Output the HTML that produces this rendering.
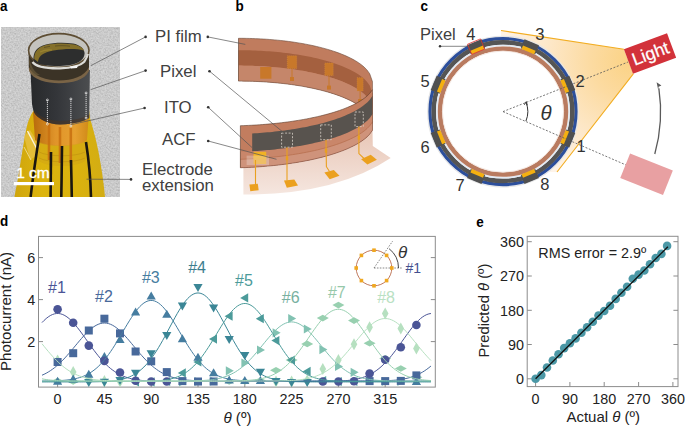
<!DOCTYPE html>
<html><head><meta charset="utf-8"><style>html,body{margin:0;padding:0;background:#fff;}svg{display:block;}</style></head>
<body><svg width="685" height="427" viewBox="0 0 685 427" font-family='"Liberation Sans", sans-serif'>
<defs><filter id="grain" x="0" y="0" width="1" height="1"><feTurbulence type="fractalNoise" baseFrequency="0.6" numOctaves="2" seed="7" result="n"/><feColorMatrix in="n" type="matrix" values="0.8 0 0 0 0.22  0.8 0 0 0 0.22  0.8 0 0 0 0.22  0 0 0 0 0.45" result="m"/><feComposite in="m" in2="SourceGraphic" operator="in"/></filter></defs>
<rect width="685" height="427" fill="#fff"/>
<g id="pa">
<defs><clipPath id="photoclip"><rect x="1" y="27" width="119" height="170"/></clipPath><linearGradient id="cylg" x1="0" x2="1" y1="0" y2="0"><stop offset="0" stop-color="#27292b"/><stop offset="0.45" stop-color="#34363a"/><stop offset="1" stop-color="#4c4e50"/></linearGradient><linearGradient id="yelg" x1="0" x2="1" y1="0" y2="0"><stop offset="0" stop-color="#cfa50c"/><stop offset="0.3" stop-color="#dcb40e"/><stop offset="0.7" stop-color="#dab20e"/><stop offset="1" stop-color="#d2ac14"/></linearGradient><linearGradient id="ambg" x1="0" x2="1" y1="0" y2="0"><stop offset="0" stop-color="#b86c0c"/><stop offset="0.4" stop-color="#e0942a"/><stop offset="0.75" stop-color="#e6a030"/><stop offset="1" stop-color="#d08a18"/></linearGradient><linearGradient id="rimg" x1="0" x2="1" y1="0" y2="0"><stop offset="0" stop-color="#3e3524"/><stop offset="0.5" stop-color="#4c4230"/><stop offset="1" stop-color="#5a5040"/></linearGradient></defs>
<g clip-path="url(#photoclip)">
<rect x="1" y="27" width="119" height="170" fill="#c6c6c6"/>
<rect x="1" y="27" width="119" height="170" fill="#bdbdbd" filter="url(#grain)"/>
<path d="M34,110 C31,114 28,121 26.5,128 C24,140 21.5,156 19,172 C17,184 15.5,191 14.5,197 L105,197 C104,185 102,172 100.5,163 C98.5,150 95,135 90,118 L89,110 Z" fill="url(#yelg)"/>
<path d="M24,136 L30,130 L40,146 L36,156 L30,160 Z" fill="#e9c34a" opacity="0.7"/>
<path d="M27.5,131 L37,149" stroke="#fbf4dc" stroke-width="1.4"/>
<path d="M24,147 L31,160" stroke="#f4e2a0" stroke-width="1" opacity="0.8"/>
<path d="M33,112 L35,140 C42,148 80,148 87,140 L89,112 Z" fill="url(#ambg)"/>
<path d="M36,140 C44,147 78,147 87,140 L86,160 C78,168 46,168 38,160 Z" fill="#d0a416" opacity="0.5"/>
<path d="M39,152 C48,157 76,157 85,152 M39,158 C48,163 76,163 85,158" stroke="#b88a10" stroke-width="0.8" fill="none" opacity="0.6"/>
<line x1="49" y1="124" x2="49" y2="160" stroke="#c87010" stroke-width="2.6" opacity="0.85"/>
<line x1="60" y1="127" x2="60" y2="163" stroke="#c87010" stroke-width="2.6" opacity="0.85"/>
<line x1="70.8" y1="128" x2="70.8" y2="163" stroke="#c87010" stroke-width="2.6" opacity="0.85"/>
<path d="M39.5,134 C37,150 33.5,172 30.6,197" stroke="#1a1610" stroke-width="2.6" fill="none"/>
<path d="M51,152 C51,166 50.8,180 50.6,197" stroke="#1a1610" stroke-width="2.6" fill="none"/>
<path d="M62,146 C61.8,164 61.6,180 61.3,197" stroke="#1a1610" stroke-width="2.6" fill="none"/>
<path d="M71,160 C71.3,172 71.6,185 71.8,197" stroke="#1a1610" stroke-width="2.6" fill="none"/>
<path d="M86,142 C88.5,158 90.5,176 91,197" stroke="#1a1610" stroke-width="2.6" fill="none"/>
<path d="M30.5,70 L32,104 C33,110 34,113 35,114 C40,120 48,124 60,124.5 C75,124 85,121 89.2,118 L89.9,70 Z" fill="url(#cylg)"/>
<path d="M35,114 C40,120 48,124 60,124.5 C75,124 85,121 89.2,118 L89.3,114.5 C85,117.5 75,120.5 60,121 C48,120.5 40,117 35,111 Z" fill="#4a3422" opacity="0.55"/>
<path d="M28.6,50.5 L28.8,68 C31,77 45,82.5 59,82.5 C72,82.5 86,78 89,68 L89,50.5 Z" fill="#3b3326"/>
<path d="M29,67 C33,76.5 47,80.5 59,80.5 C72,80.5 85,76.5 89,67 L89,71 C85,80 72,83.2 59,83.2 C47,83.2 33,80 29,71 Z" fill="#7a6446"/>
<path d="M29,58 C31,66 34,72 40,75 L34,76 C31,72 29,66 29,60 Z" fill="#6a5a3a" opacity="0.7"/>
<ellipse cx="58.8" cy="50.5" rx="30.2" ry="16.9" fill="#c4c3be" stroke="#5e4e34" stroke-width="1.6"/>
<path d="M33.5,60 C33,52 37,46.5 46,44.5 C54,42.5 64,42.3 73,43.6 C80,45 84,48.5 84.6,53 C84.5,60 78,65.5 60,66 C45,66 35,64 33.5,60 Z" fill="#2d2e2e"/>
<path d="M34.2,59 C34,52 38,47 46,45 C54,43.2 64,43 72,44.2 C78,45 82.5,47 84,50.5 C78,49 70,48.8 62,49.5 C52,50 45,52 41,55.5 C39,57.5 38,60 38,62 Z" fill="#84702a"/>
<path d="M40,52 C44,50 48,49.5 52,50" stroke="#9a8430" stroke-width="1.2" fill="none"/>
<path d="M55,46 C60,45.5 66,45.6 70,46.2 M44,47.5 L50,46.3" stroke="#4a4020" stroke-width="1" fill="none" opacity="0.6"/>
<path d="M32.5,62 C36,67 47,68.5 60,68.3 C72,68 80,66 84,62 C86,59 87.5,57 87.8,54" stroke="#dcdcd8" stroke-width="2.2" fill="none"/>
<path d="M70,66.5 L78,65 L77,68 L71,68.5 Z" fill="#f4f4f4"/>
<line x1="47.4" y1="100" x2="47.4" y2="124" stroke="#e8e8e8" stroke-width="0.9" stroke-dasharray="1.2,0.8"/>
<circle cx="47.4" cy="100" r="1" fill="none" stroke="#e8e8e8" stroke-width="0.7"/>
<circle cx="47.4" cy="124" r="1" fill="none" stroke="#e8e8e8" stroke-width="0.7"/>
<line x1="70.9" y1="99" x2="70.9" y2="126" stroke="#e8e8e8" stroke-width="0.9" stroke-dasharray="1.2,0.8"/>
<circle cx="70.9" cy="99" r="1" fill="none" stroke="#e8e8e8" stroke-width="0.7"/>
<circle cx="70.9" cy="126" r="1" fill="none" stroke="#e8e8e8" stroke-width="0.7"/>
<line x1="86.1" y1="93" x2="86.1" y2="118" stroke="#e8e8e8" stroke-width="0.9" stroke-dasharray="1.2,0.8"/>
<circle cx="86.1" cy="93" r="1" fill="none" stroke="#e8e8e8" stroke-width="0.7"/>
<circle cx="86.1" cy="118" r="1" fill="none" stroke="#e8e8e8" stroke-width="0.7"/>
</g>
<rect x="14" y="182" width="40" height="3.2" fill="#fff"/>
<text x="16.2" y="178" font-size="15.5" fill="#fff" stroke="#fff" stroke-width="0.35">1 cm</text>
</g>
<g id="pb">
<defs><linearGradient id="pinkg" x1="0" x2="0" y1="0" y2="1"><stop offset="0" stop-color="#e8c6b6"/><stop offset="1" stop-color="#f5e6df"/></linearGradient></defs>
<path d="M243.4,165 L243.40,167.66 L246.09,167.55 L248.78,167.42 L251.47,167.29 L254.16,167.13 L256.85,166.96 L259.54,166.78 L262.23,166.58 L264.92,166.36 L267.61,166.13 L270.30,165.88 L272.99,165.61 L275.68,165.32 L278.36,165.02 L281.05,164.70 L283.74,164.36 L286.43,164.01 L289.12,163.63 L291.81,163.24 L294.50,162.82 L297.19,162.38 L299.88,161.92 L302.57,161.44 L305.26,160.93 L307.95,160.40 L310.64,159.85 L313.33,159.27 L316.02,158.66 L318.71,158.02 L321.40,157.35 L324.09,156.65 L326.78,155.91 L329.47,155.13 L332.16,154.32 L334.85,153.46 L337.54,152.56 L340.23,151.60 L342.91,150.59 L345.60,149.51 L348.29,148.36 L350.98,147.14 L353.67,145.81 L356.36,144.38 L359.05,142.81 L361.74,141.07 L364.43,139.11 L367.12,136.83 L369.81,134.03 L372.50,130.17 L372.8,146 L390.7,158 Q335,195 243.4,194.5 Z" fill="url(#pinkg)"/>
<path d="M238.50,38.30 L241.29,38.31 L244.08,38.33 L246.88,38.38 L249.67,38.44 L252.46,38.52 L255.25,38.63 L258.04,38.75 L260.83,38.89 L263.62,39.05 L266.42,39.23 L269.21,39.44 L272.00,39.66 L274.79,39.90 L277.58,40.17 L280.38,40.46 L283.17,40.77 L285.96,41.10 L288.75,41.46 L291.54,41.84 L294.33,42.24 L297.12,42.67 L299.92,43.13 L302.71,43.62 L305.50,44.13 L308.29,44.67 L311.08,45.24 L313.88,45.85 L316.67,46.49 L319.46,47.16 L322.25,47.88 L325.04,48.63 L327.83,49.43 L330.62,50.27 L333.42,51.16 L336.21,52.11 L339.00,53.12 L341.79,54.20 L344.58,55.35 L347.38,56.58 L350.17,57.92 L352.96,59.37 L355.75,60.96 L358.54,62.73 L361.33,64.73 L364.12,67.05 L366.92,69.89 L369.71,73.76 L372.50,81.80 L372.50,124.00 L369.71,116.07 L366.92,112.25 L364.12,109.46 L361.33,107.17 L358.54,105.20 L355.75,103.45 L352.96,101.88 L350.17,100.45 L347.38,99.13 L344.58,97.91 L341.79,96.78 L339.00,95.72 L336.21,94.72 L333.42,93.79 L330.62,92.90 L327.83,92.07 L325.04,91.29 L322.25,90.54 L319.46,89.84 L316.67,89.17 L313.88,88.54 L311.08,87.95 L308.29,87.38 L305.50,86.85 L302.71,86.34 L299.92,85.86 L297.12,85.41 L294.33,84.99 L291.54,84.59 L288.75,84.21 L285.96,83.86 L283.17,83.53 L280.38,83.23 L277.58,82.94 L274.79,82.68 L272.00,82.44 L269.21,82.22 L266.42,82.02 L263.62,81.84 L260.83,81.68 L258.04,81.54 L255.25,81.42 L252.46,81.32 L249.67,81.24 L246.88,81.18 L244.08,81.13 L241.29,81.11 L238.50,81.10 Z" fill="#c07c5e"/>
<path d="M238.50,50.20 L241.29,50.21 L244.08,50.23 L246.88,50.28 L249.67,50.34 L252.46,50.42 L255.25,50.52 L258.04,50.65 L260.83,50.79 L263.62,50.95 L266.42,51.13 L269.21,51.33 L272.00,51.55 L274.79,51.80 L277.58,52.06 L280.38,52.35 L283.17,52.66 L285.96,52.99 L288.75,53.34 L291.54,53.72 L294.33,54.13 L297.12,54.55 L299.92,55.01 L302.71,55.49 L305.50,56.00 L308.29,56.54 L311.08,57.11 L313.88,57.71 L316.67,58.35 L319.46,59.02 L322.25,59.73 L325.04,60.48 L327.83,61.27 L330.62,62.11 L333.42,63.00 L336.21,63.95 L339.00,64.95 L341.79,66.02 L344.58,67.17 L347.38,68.40 L350.17,69.73 L352.96,71.17 L355.75,72.76 L358.54,74.52 L361.33,76.51 L364.12,78.82 L366.92,81.64 L369.71,85.50 L372.50,93.50 L372.50,108.70 L369.71,100.73 L366.92,96.90 L364.12,94.09 L361.33,91.79 L358.54,89.81 L355.75,88.06 L352.96,86.48 L350.17,85.04 L347.38,83.72 L344.58,82.49 L341.79,81.35 L339.00,80.28 L336.21,79.28 L333.42,78.34 L330.62,77.46 L327.83,76.62 L325.04,75.83 L322.25,75.09 L319.46,74.38 L316.67,73.71 L313.88,73.08 L311.08,72.48 L308.29,71.91 L305.50,71.37 L302.71,70.87 L299.92,70.39 L297.12,69.93 L294.33,69.51 L291.54,69.11 L288.75,68.73 L285.96,68.38 L283.17,68.05 L280.38,67.74 L277.58,67.45 L274.79,67.19 L272.00,66.95 L269.21,66.73 L266.42,66.53 L263.62,66.35 L260.83,66.18 L258.04,66.04 L255.25,65.92 L252.46,65.82 L249.67,65.74 L246.88,65.68 L244.08,65.63 L241.29,65.61 L238.50,65.60 Z" fill="#a4603f"/>
<path d="M238.50,65.60 L241.29,65.61 L244.08,65.63 L246.88,65.68 L249.67,65.74 L252.46,65.82 L255.25,65.92 L258.04,66.04 L260.83,66.18 L263.62,66.35 L266.42,66.53 L269.21,66.73 L272.00,66.95 L274.79,67.19 L277.58,67.45 L280.38,67.74 L283.17,68.05 L285.96,68.38 L288.75,68.73 L291.54,69.11 L294.33,69.51 L297.12,69.93 L299.92,70.39 L302.71,70.87 L305.50,71.37 L308.29,71.91 L311.08,72.48 L313.88,73.08 L316.67,73.71 L319.46,74.38 L322.25,75.09 L325.04,75.83 L327.83,76.62 L330.62,77.46 L333.42,78.34 L336.21,79.28 L339.00,80.28 L341.79,81.35 L344.58,82.49 L347.38,83.72 L350.17,85.04 L352.96,86.48 L355.75,88.06 L358.54,89.81 L361.33,91.79 L364.12,94.09 L366.92,96.90 L369.71,100.73 L372.50,108.70 L372.50,124.00 L369.71,116.07 L366.92,112.25 L364.12,109.46 L361.33,107.17 L358.54,105.20 L355.75,103.45 L352.96,101.88 L350.17,100.45 L347.38,99.13 L344.58,97.91 L341.79,96.78 L339.00,95.72 L336.21,94.72 L333.42,93.79 L330.62,92.90 L327.83,92.07 L325.04,91.29 L322.25,90.54 L319.46,89.84 L316.67,89.17 L313.88,88.54 L311.08,87.95 L308.29,87.38 L305.50,86.85 L302.71,86.34 L299.92,85.86 L297.12,85.41 L294.33,84.99 L291.54,84.59 L288.75,84.21 L285.96,83.86 L283.17,83.53 L280.38,83.23 L277.58,82.94 L274.79,82.68 L272.00,82.44 L269.21,82.22 L266.42,82.02 L263.62,81.84 L260.83,81.68 L258.04,81.54 L255.25,81.42 L252.46,81.32 L249.67,81.24 L246.88,81.18 L244.08,81.13 L241.29,81.11 L238.50,81.10 Z" fill="#c5866a"/>
<rect x="260.2" y="67" width="11.2" height="11.7" fill="#c8782a"/>
<rect x="287.3" y="55.8" width="9.4" height="12.7" fill="#c8782a" stroke="#d99040" stroke-width="0.5" stroke-dasharray="1,1"/>
<line x1="292.0" y1="68.5" x2="292.0" y2="79" stroke="#c8782a" stroke-width="1"/>
<rect x="290.0" y="77" width="4" height="4" fill="#c8782a"/>
<rect x="324.8" y="63" width="8.4" height="12.5" fill="#c8782a" stroke="#d99040" stroke-width="0.5" stroke-dasharray="1,1"/>
<line x1="329.0" y1="75.5" x2="329.0" y2="87.6" stroke="#c8782a" stroke-width="1"/>
<rect x="327.0" y="85.6" width="4" height="4" fill="#c8782a"/>
<rect x="357.1" y="77.7" width="6.0" height="13.3" fill="#c8782a" stroke="#d99040" stroke-width="0.5" stroke-dasharray="1,1"/>
<line x1="360.1" y1="91" x2="360.1" y2="101" stroke="#c8782a" stroke-width="1"/>
<rect x="358.1" y="99" width="4" height="4" fill="#c8782a"/>
<path d="M238.50,38.30 L241.29,38.31 L244.08,38.33 L246.88,38.38 L249.67,38.44 L252.46,38.52 L255.25,38.63 L258.04,38.75 L260.83,38.89 L263.62,39.05 L266.42,39.23 L269.21,39.44 L272.00,39.66 L274.79,39.90 L277.58,40.17 L280.38,40.46 L283.17,40.77 L285.96,41.10 L288.75,41.46 L291.54,41.84 L294.33,42.24 L297.12,42.67 L299.92,43.13 L302.71,43.62 L305.50,44.13 L308.29,44.67 L311.08,45.24 L313.88,45.85 L316.67,46.49 L319.46,47.16 L322.25,47.88 L325.04,48.63 L327.83,49.43 L330.62,50.27 L333.42,51.16 L336.21,52.11 L339.00,53.12 L341.79,54.20 L344.58,55.35 L347.38,56.58 L350.17,57.92 L352.96,59.37 L355.75,60.96 L358.54,62.73 L361.33,64.73 L364.12,67.05 L366.92,69.89 L369.71,73.76 L372.50,81.80 " stroke="#6a4a3a" stroke-width="0.6" fill="none"/>
<path d="M238.50,81.10 L241.29,81.11 L244.08,81.13 L246.88,81.18 L249.67,81.24 L252.46,81.32 L255.25,81.42 L258.04,81.54 L260.83,81.68 L263.62,81.84 L266.42,82.02 L269.21,82.22 L272.00,82.44 L274.79,82.68 L277.58,82.94 L280.38,83.23 L283.17,83.53 L285.96,83.86 L288.75,84.21 L291.54,84.59 L294.33,84.99 L297.12,85.41 L299.92,85.86 L302.71,86.34 L305.50,86.85 L308.29,87.38 L311.08,87.95 L313.88,88.54 L316.67,89.17 L319.46,89.84 L322.25,90.54 L325.04,91.29 L327.83,92.07 L330.62,92.90 L333.42,93.79 L336.21,94.72 L339.00,95.72 L341.79,96.78 L344.58,97.91 L347.38,99.13 L350.17,100.45 L352.96,101.88 L355.75,103.45 L358.54,105.20 L361.33,107.17 L364.12,109.46 L366.92,112.25 L369.71,116.07 L372.50,124.00 " stroke="#6a4a3a" stroke-width="0.6" fill="none"/>
<line x1="238.5" y1="38.3" x2="238.5" y2="81.1" stroke="#6a4a3a" stroke-width="0.7"/>
<path d="M240.40,125.72 L243.15,125.63 L245.90,125.52 L248.66,125.40 L251.41,125.27 L254.16,125.12 L256.91,124.95 L259.66,124.77 L262.42,124.57 L265.17,124.35 L267.92,124.12 L270.67,123.87 L273.43,123.61 L276.18,123.32 L278.93,123.02 L281.68,122.71 L284.43,122.37 L287.19,122.01 L289.94,121.64 L292.69,121.24 L295.44,120.82 L298.19,120.39 L300.95,119.93 L303.70,119.44 L306.45,118.94 L309.20,118.40 L311.95,117.84 L314.71,117.26 L317.46,116.64 L320.21,116.00 L322.96,115.32 L325.71,114.61 L328.47,113.86 L331.22,113.08 L333.97,112.25 L336.72,111.37 L339.48,110.45 L342.23,109.47 L344.98,108.42 L347.73,107.31 L350.48,106.12 L353.24,104.84 L355.99,103.44 L358.74,101.92 L361.49,100.23 L364.24,98.32 L367.00,96.09 L369.75,93.37 L372.50,89.58 L372.50,130.17 L369.75,134.11 L367.00,136.94 L364.24,139.25 L361.49,141.24 L358.74,143.00 L355.99,144.59 L353.24,146.03 L350.48,147.37 L347.73,148.61 L344.98,149.77 L342.23,150.85 L339.48,151.87 L336.72,152.83 L333.97,153.74 L331.22,154.61 L328.47,155.43 L325.71,156.20 L322.96,156.94 L320.21,157.65 L317.46,158.32 L314.71,158.96 L311.95,159.57 L309.20,160.15 L306.45,160.70 L303.70,161.23 L300.95,161.73 L298.19,162.21 L295.44,162.67 L292.69,163.10 L289.94,163.51 L287.19,163.90 L284.43,164.27 L281.68,164.63 L278.93,164.96 L276.18,165.27 L273.43,165.56 L270.67,165.84 L267.92,166.10 L265.17,166.34 L262.42,166.56 L259.66,166.77 L256.91,166.96 L254.16,167.13 L251.41,167.29 L248.66,167.43 L245.90,167.56 L243.15,167.67 L240.40,167.76 Z" fill="#c27d5f"/>
<path d="M240.40,151.72 L243.15,151.63 L245.90,151.52 L248.66,151.39 L251.41,151.25 L254.16,151.09 L256.91,150.92 L259.66,150.73 L262.42,150.52 L265.17,150.30 L267.92,150.05 L270.67,149.80 L273.43,149.52 L276.18,149.23 L278.93,148.91 L281.68,148.58 L284.43,148.23 L287.19,147.86 L289.94,147.47 L292.69,147.05 L295.44,146.62 L298.19,146.16 L300.95,145.69 L303.70,145.18 L306.45,144.65 L309.20,144.10 L311.95,143.52 L314.71,142.91 L317.46,142.27 L320.21,141.59 L322.96,140.89 L325.71,140.15 L328.47,139.37 L331.22,138.55 L333.97,137.69 L336.72,136.77 L339.48,135.81 L342.23,134.79 L344.98,133.70 L347.73,132.54 L350.48,131.30 L353.24,129.97 L355.99,128.52 L358.74,126.93 L361.49,125.17 L364.24,123.17 L367.00,120.86 L369.75,118.02 L372.50,114.08 L372.50,130.17 L369.75,134.11 L367.00,136.94 L364.24,139.25 L361.49,141.24 L358.74,143.00 L355.99,144.59 L353.24,146.03 L350.48,147.37 L347.73,148.61 L344.98,149.77 L342.23,150.85 L339.48,151.87 L336.72,152.83 L333.97,153.74 L331.22,154.61 L328.47,155.43 L325.71,156.20 L322.96,156.94 L320.21,157.65 L317.46,158.32 L314.71,158.96 L311.95,159.57 L309.20,160.15 L306.45,160.70 L303.70,161.23 L300.95,161.73 L298.19,162.21 L295.44,162.67 L292.69,163.10 L289.94,163.51 L287.19,163.90 L284.43,164.27 L281.68,164.63 L278.93,164.96 L276.18,165.27 L273.43,165.56 L270.67,165.84 L267.92,166.10 L265.17,166.34 L262.42,166.56 L259.66,166.77 L256.91,166.96 L254.16,167.13 L251.41,167.29 L248.66,167.43 L245.90,167.56 L243.15,167.67 L240.40,167.76 Z" fill="#c9866a"/>
<path d="M240.40,159.26 L243.15,159.17 L245.90,159.06 L248.66,158.93 L251.41,158.79 L254.16,158.64 L256.91,158.46 L259.66,158.27 L262.42,158.07 L265.17,157.85 L267.92,157.61 L270.67,157.35 L273.43,157.07 L276.18,156.78 L278.93,156.47 L281.68,156.14 L284.43,155.79 L287.19,155.42 L289.94,155.03 L292.69,154.62 L295.44,154.19 L298.19,153.74 L300.95,153.26 L303.70,152.76 L306.45,152.24 L309.20,151.68 L311.95,151.11 L314.71,150.50 L317.46,149.86 L320.21,149.19 L322.96,148.49 L325.71,147.76 L328.47,146.98 L331.22,146.17 L333.97,145.31 L336.72,144.40 L339.48,143.44 L342.23,142.43 L344.98,141.35 L347.73,140.20 L350.48,138.96 L353.24,137.63 L355.99,136.19 L358.74,134.61 L361.49,132.86 L364.24,130.88 L367.00,128.58 L369.75,125.76 L372.50,121.84 L372.50,130.17 L369.75,134.11 L367.00,136.94 L364.24,139.25 L361.49,141.24 L358.74,143.00 L355.99,144.59 L353.24,146.03 L350.48,147.37 L347.73,148.61 L344.98,149.77 L342.23,150.85 L339.48,151.87 L336.72,152.83 L333.97,153.74 L331.22,154.61 L328.47,155.43 L325.71,156.20 L322.96,156.94 L320.21,157.65 L317.46,158.32 L314.71,158.96 L311.95,159.57 L309.20,160.15 L306.45,160.70 L303.70,161.23 L300.95,161.73 L298.19,162.21 L295.44,162.67 L292.69,163.10 L289.94,163.51 L287.19,163.90 L284.43,164.27 L281.68,164.63 L278.93,164.96 L276.18,165.27 L273.43,165.56 L270.67,165.84 L267.92,166.10 L265.17,166.34 L262.42,166.56 L259.66,166.77 L256.91,166.96 L254.16,167.13 L251.41,167.29 L248.66,167.43 L245.90,167.56 L243.15,167.67 L240.40,167.76 Z" fill="#cf937b"/>
<path d="M240.40,159.26 L243.15,159.17 L245.90,159.06 L248.66,158.93 L251.41,158.79 L254.16,158.64 L256.91,158.46 L259.66,158.27 L262.42,158.07 L265.17,157.85 L267.92,157.61 L270.67,157.35 L273.43,157.07 L276.18,156.78 L278.93,156.47 L281.68,156.14 L284.43,155.79 L287.19,155.42 L289.94,155.03 L292.69,154.62 L295.44,154.19 L298.19,153.74 L300.95,153.26 L303.70,152.76 L306.45,152.24 L309.20,151.68 L311.95,151.11 L314.71,150.50 L317.46,149.86 L320.21,149.19 L322.96,148.49 L325.71,147.76 L328.47,146.98 L331.22,146.17 L333.97,145.31 L336.72,144.40 L339.48,143.44 L342.23,142.43 L344.98,141.35 L347.73,140.20 L350.48,138.96 L353.24,137.63 L355.99,136.19 L358.74,134.61 L361.49,132.86 L364.24,130.88 L367.00,128.58 L369.75,125.76 L372.50,121.84 " stroke="#b8704f" stroke-width="0.8" fill="none"/>
<path d="M252.20,133.48 L254.71,133.33 L257.21,133.17 L259.72,132.99 L262.22,132.80 L264.73,132.59 L267.24,132.37 L269.74,132.14 L272.25,131.89 L274.76,131.62 L277.26,131.34 L279.77,131.05 L282.27,130.74 L284.78,130.41 L287.29,130.06 L289.79,129.70 L292.30,129.32 L294.81,128.92 L297.31,128.50 L299.82,128.07 L302.32,127.61 L304.83,127.13 L307.34,126.64 L309.84,126.12 L312.35,125.57 L314.86,125.00 L317.36,124.41 L319.87,123.79 L322.38,123.14 L324.88,122.46 L327.39,121.76 L329.89,121.01 L332.40,120.23 L334.91,119.42 L337.41,118.56 L339.92,117.65 L342.43,116.70 L344.93,115.69 L347.44,114.62 L349.94,113.49 L352.45,112.27 L354.96,110.96 L357.46,109.55 L359.97,108.00 L362.48,106.29 L364.98,104.37 L367.49,102.14 L369.99,99.42 L372.50,95.71 L372.50,114.08 L369.99,117.73 L367.49,120.40 L364.98,122.59 L362.48,124.48 L359.97,126.16 L357.46,127.68 L354.96,129.07 L352.45,130.36 L349.94,131.55 L347.44,132.67 L344.93,133.72 L342.43,134.71 L339.92,135.65 L337.41,136.54 L334.91,137.38 L332.40,138.18 L329.89,138.95 L327.39,139.68 L324.88,140.38 L322.38,141.04 L319.87,141.68 L317.36,142.29 L314.86,142.87 L312.35,143.43 L309.84,143.97 L307.34,144.48 L304.83,144.97 L302.32,145.44 L299.82,145.88 L297.31,146.31 L294.81,146.72 L292.30,147.11 L289.79,147.49 L287.29,147.84 L284.78,148.18 L282.27,148.51 L279.77,148.81 L277.26,149.10 L274.76,149.38 L272.25,149.64 L269.74,149.89 L267.24,150.12 L264.73,150.33 L262.22,150.53 L259.72,150.72 L257.21,150.90 L254.71,151.06 L252.20,151.20 Z" fill="#58534e"/>
<path d="M240.40,125.72 L243.15,125.63 L245.90,125.52 L248.66,125.40 L251.41,125.27 L254.16,125.12 L256.91,124.95 L259.66,124.77 L262.42,124.57 L265.17,124.35 L267.92,124.12 L270.67,123.87 L273.43,123.61 L276.18,123.32 L278.93,123.02 L281.68,122.71 L284.43,122.37 L287.19,122.01 L289.94,121.64 L292.69,121.24 L295.44,120.82 L298.19,120.39 L300.95,119.93 L303.70,119.44 L306.45,118.94 L309.20,118.40 L311.95,117.84 L314.71,117.26 L317.46,116.64 L320.21,116.00 L322.96,115.32 L325.71,114.61 L328.47,113.86 L331.22,113.08 L333.97,112.25 L336.72,111.37 L339.48,110.45 L342.23,109.47 L344.98,108.42 L347.73,107.31 L350.48,106.12 L353.24,104.84 L355.99,103.44 L358.74,101.92 L361.49,100.23 L364.24,98.32 L367.00,96.09 L369.75,93.37 L372.50,89.58 " stroke="#5a3a2a" stroke-width="0.6" fill="none"/>
<path d="M240.40,167.76 L243.15,167.67 L245.90,167.56 L248.66,167.43 L251.41,167.29 L254.16,167.13 L256.91,166.96 L259.66,166.77 L262.42,166.56 L265.17,166.34 L267.92,166.10 L270.67,165.84 L273.43,165.56 L276.18,165.27 L278.93,164.96 L281.68,164.63 L284.43,164.27 L287.19,163.90 L289.94,163.51 L292.69,163.10 L295.44,162.67 L298.19,162.21 L300.95,161.73 L303.70,161.23 L306.45,160.70 L309.20,160.15 L311.95,159.57 L314.71,158.96 L317.46,158.32 L320.21,157.65 L322.96,156.94 L325.71,156.20 L328.47,155.43 L331.22,154.61 L333.97,153.74 L336.72,152.83 L339.48,151.87 L342.23,150.85 L344.98,149.77 L347.73,148.61 L350.48,147.37 L353.24,146.03 L355.99,144.59 L358.74,143.00 L361.49,141.24 L364.24,139.25 L367.00,136.94 L369.75,134.11 L372.50,130.17 " stroke="#7a4a3a" stroke-width="0.6" fill="none"/>
<line x1="240.4" y1="125.7" x2="240.4" y2="167.8" stroke="#6a4a3a" stroke-width="0.7"/>
<line x1="372.5" y1="81.8" x2="372.5" y2="130.2" stroke="#6a4a3a" stroke-width="0.5"/>
<rect x="253.5" y="151.8" width="12.7" height="7" fill="#f2b224"/>
<rect x="246.6" y="155.6" width="22.4" height="9.4" fill="#fff" opacity="0.25"/>
<rect x="253.5" y="156" width="12.7" height="8" fill="#f0c060" opacity="0.9"/>
<rect x="281.6" y="133.1" width="10.9" height="14.1" fill="none" stroke="#d8d0c8" stroke-width="0.8" stroke-dasharray="2,1.5"/>
<path d="M287,147.2 L287,180.5" stroke="#e9a020" stroke-width="1.1" fill="none"/>
<rect x="285.8" y="156.2" width="2.4" height="4" fill="#e9a020"/>
<path d="M284,180.5 L294.3,179.6 L298,185.6 L286.8,187.8 Z" fill="#eba01e"/>
<rect x="320.7" y="124.9" width="10.6" height="14.8" fill="none" stroke="#d8d0c8" stroke-width="0.8" stroke-dasharray="2,1.5"/>
<path d="M326,139.7 L326.4,166.7 L329.5,171.5" stroke="#e9a020" stroke-width="1.1" fill="none"/>
<rect x="324.8" y="148.7" width="2.4" height="4" fill="#e9a020"/>
<path d="M324.4,172.5 L333.8,170 L339.5,175.7 L329.7,179.3 Z" fill="#eba01e"/>
<rect x="355" y="112" width="8.3" height="14.6" fill="none" stroke="#d8d0c8" stroke-width="0.8" stroke-dasharray="2,1.5"/>
<path d="M358.9,126.6 L358.9,153.6 L364,158.5" stroke="#e9a020" stroke-width="1.1" fill="none"/>
<rect x="357.7" y="135.6" width="2.4" height="4" fill="#e9a020"/>
<path d="M361.1,159.3 L370.7,154.8 L376.9,159.7 L367.4,164.6 Z" fill="#eba01e"/>
<path d="M255.5,160 L255.5,184.5" stroke="#e9a020" stroke-width="1.1"/>
<path d="M249.4,184.6 L257.8,183.7 L258.7,190.3 L250.3,191.2 Z" fill="#eba01e"/>
</g>
<text x="155" y="41.5" font-size="16.8" fill="#404040">PI film</text>
<text x="160" y="77.4" font-size="16.8" fill="#404040">Pixel</text>
<text x="164" y="113.2" font-size="16.8" fill="#404040">ITO</text>
<text x="162" y="145.4" font-size="16.8" fill="#404040">ACF</text>
<text x="142" y="175" font-size="16.8" fill="#404040">Electrode</text>
<text x="142" y="191.2" font-size="16.8" fill="#404040">extension</text>
<line x1="145.6" y1="36.9" x2="90.6" y2="65.8" stroke="#555" stroke-width="0.7"/>
<line x1="145.6" y1="70.6" x2="90.6" y2="89.7" stroke="#555" stroke-width="0.7"/>
<line x1="144.6" y1="108" x2="70.6" y2="124.8" stroke="#555" stroke-width="0.7"/>
<line x1="131" y1="179.4" x2="86.5" y2="179.2" stroke="#555" stroke-width="0.7"/>
<line x1="207.8" y1="36.9" x2="245.3" y2="44.4" stroke="#555" stroke-width="0.7"/>
<line x1="209.5" y1="71.2" x2="284" y2="133" stroke="#555" stroke-width="0.7"/>
<line x1="208.2" y1="107.3" x2="252" y2="147.5" stroke="#555" stroke-width="0.7"/>
<line x1="208.2" y1="141" x2="276.5" y2="159.3" stroke="#555" stroke-width="0.7"/>
<circle cx="145.6" cy="36.9" r="1.3" fill="#333"/>
<circle cx="145.6" cy="70.6" r="1.3" fill="#333"/>
<circle cx="144.6" cy="108" r="1.3" fill="#333"/>
<circle cx="131" cy="179.4" r="1.3" fill="#333"/>
<circle cx="207.8" cy="36.9" r="1.3" fill="#333"/>
<circle cx="209.5" cy="71.2" r="1.3" fill="#333"/>
<circle cx="208.2" cy="107.3" r="1.3" fill="#333"/>
<circle cx="208.2" cy="141" r="1.3" fill="#333"/>
<g id="pc">
<defs><radialGradient id="coneg" cx="632" cy="60" r="140" gradientUnits="userSpaceOnUse"><stop offset="0" stop-color="#fbd283"/><stop offset="0.3" stop-color="#fcdba2"/><stop offset="0.62" stop-color="#fde8ca"/><stop offset="1" stop-color="#fef5ec"/></radialGradient></defs>
<path d="M501,30.5 L623.9,49.3 L633.3,73.8 L557,172 L540,172 L501,110 Z" fill="url(#coneg)"/>
<circle cx="503" cy="111.6" r="75.3" fill="none" stroke="#e6e6e6" stroke-width="1.2"/>
<circle cx="503" cy="111.6" r="73" fill="none" stroke="#2c4f9c" stroke-width="3.2"/>
<circle cx="503" cy="111.6" r="69.25" fill="none" stroke="#555555" stroke-width="4.6"/>
<circle cx="503" cy="111.6" r="66.1" fill="none" stroke="#e2eaf4" stroke-width="1.7"/>
<circle cx="503" cy="111.6" r="62.9" fill="none" stroke="#b97b60" stroke-width="4.6"/>
<circle cx="503" cy="111.6" r="60.6" fill="#fff" stroke="#f0e0d8" stroke-width="0.8"/>
<g transform="rotate(-22.5,503,111.6)">
<rect x="568.4" y="103.8" width="9.6" height="15.6" fill="#505050"/>
<rect x="568.0" y="104.8" width="3.7" height="13.6" fill="#f5b010"/>
</g>
<g transform="rotate(-67.5,503,111.6)">
<rect x="568.4" y="103.8" width="9.6" height="15.6" fill="#505050"/>
<rect x="568.0" y="104.8" width="3.7" height="13.6" fill="#f5b010"/>
</g>
<g transform="rotate(-112.5,503,111.6)">
<rect x="568.4" y="103.8" width="9.6" height="15.6" fill="#505050"/>
<rect x="568.0" y="104.8" width="3.7" height="13.6" fill="#f5b010"/>
</g>
<g transform="rotate(-157.5,503,111.6)">
<rect x="568.4" y="103.8" width="9.6" height="15.6" fill="#505050"/>
<rect x="568.0" y="104.8" width="3.7" height="13.6" fill="#f5b010"/>
</g>
<g transform="rotate(-202.5,503,111.6)">
<rect x="568.4" y="103.8" width="9.6" height="15.6" fill="#505050"/>
<rect x="568.0" y="104.8" width="3.7" height="13.6" fill="#f5b010"/>
</g>
<g transform="rotate(-247.5,503,111.6)">
<rect x="568.4" y="103.8" width="9.6" height="15.6" fill="#505050"/>
<rect x="568.0" y="104.8" width="3.7" height="13.6" fill="#f5b010"/>
</g>
<g transform="rotate(-292.5,503,111.6)">
<rect x="568.4" y="103.8" width="9.6" height="15.6" fill="#505050"/>
<rect x="568.0" y="104.8" width="3.7" height="13.6" fill="#f5b010"/>
</g>
<g transform="rotate(-337.5,503,111.6)">
<rect x="568.4" y="103.8" width="9.6" height="15.6" fill="#505050"/>
<rect x="568.0" y="104.8" width="3.7" height="13.6" fill="#f5b010"/>
</g>
<path d="M503,111.6 L627.9,62.1 M503,111.6 L626.5,165.2" stroke="#555" stroke-width="0.8" stroke-dasharray="2,1.6"/>
<path d="M501,30.5 L623.9,49.3 M633.3,73.8 L557,172" stroke="#f2ad22" stroke-width="1.1"/>
<path d="M525.91,121.09 A24.8,24.8 0 0 0 525.91,102.11" stroke="#333" stroke-width="1" fill="none"/>
<path d="M524.3,104.8 L526.3,101.6 L527.4,105.3" stroke="#333" stroke-width="0.9" fill="none"/>
<text x="540.5" y="119.5" font-size="20.5" font-style="italic" fill="#333">θ</text>
<g transform="translate(623.9,49.3) rotate(-20.4)"><rect x="0" y="0" width="46" height="26.2" fill="#d2323a"/><text x="23.4" y="19.2" font-size="17.6" fill="#fff" stroke="#fff" stroke-width="0.25" text-anchor="middle">Light</text></g>
<g transform="translate(630.1,153.4) rotate(21.7)"><rect x="0" y="0" width="46" height="26.6" fill="#e8a0a2"/></g>
<path d="M654.79,153.98 A157.6,157.6 0 0 0 658.87,88.31" stroke="#5a5a5a" stroke-width="1.3" fill="none"/>
<path d="M656.6,82.2 L661.4,85.6 L658.6,86.8 L658.2,90 Z" fill="#5a5a5a"/>
<text x="576.5" y="151.5" font-size="16.5" fill="#333">1</text>
<text x="575.5" y="86.7" font-size="16.5" fill="#333">2</text>
<text x="535.3" y="40.2" font-size="16.5" fill="#333">3</text>
<text x="466.2" y="39.8" font-size="16.5" fill="#333">4</text>
<text x="420.5" y="86.9" font-size="16.5" fill="#333">5</text>
<text x="420.5" y="152.5" font-size="16.5" fill="#333">6</text>
<text x="455.6" y="190.5" font-size="16.5" fill="#333">7</text>
<text x="540.3" y="190.3" font-size="16.5" fill="#333">8</text>
<text x="420" y="39.8" font-size="16.5" fill="#404040">Pixel</text>
<line x1="440" y1="46.3" x2="472" y2="46.3" stroke="#555" stroke-width="0.7"/><circle cx="440" cy="46.3" r="1.2" fill="#333"/>
<g transform="rotate(-112.5,503,111.6)"><rect x="567.8" y="104.6" width="11" height="14" fill="none" stroke="#e03030" stroke-width="0.7"/></g>
</g>
<g id="pd">
<defs><clipPath id="dclip"><rect x="38.5" y="236.4" width="396.8" height="150.7"/></clipPath></defs>
<rect x="38.5" y="236.4" width="396.8" height="150.7" fill="none" stroke="#8c8c8c" stroke-width="1"/>
<line x1="38.5" y1="341.6" x2="43" y2="341.6" stroke="#8c8c8c" stroke-width="1"/>
<line x1="435.3" y1="341.6" x2="430.8" y2="341.6" stroke="#8c8c8c" stroke-width="1"/>
<text transform="translate(35.3,347.0) scale(0.96,1)" font-size="15" fill="#222" text-anchor="end">2</text>
<line x1="38.5" y1="299.6" x2="43" y2="299.6" stroke="#8c8c8c" stroke-width="1"/>
<line x1="435.3" y1="299.6" x2="430.8" y2="299.6" stroke="#8c8c8c" stroke-width="1"/>
<text transform="translate(35.3,305.0) scale(0.96,1)" font-size="15" fill="#222" text-anchor="end">4</text>
<line x1="38.5" y1="257.6" x2="43" y2="257.6" stroke="#8c8c8c" stroke-width="1"/>
<line x1="435.3" y1="257.6" x2="430.8" y2="257.6" stroke="#8c8c8c" stroke-width="1"/>
<text transform="translate(35.3,263.0) scale(0.96,1)" font-size="15" fill="#222" text-anchor="end">6</text>
<line x1="57.6" y1="387.1" x2="57.6" y2="383.6" stroke="#8c8c8c" stroke-width="1"/>
<text transform="translate(57.6,403.9) scale(0.96,1)" font-size="15" fill="#222" text-anchor="middle">0</text>
<line x1="104.4" y1="387.1" x2="104.4" y2="383.6" stroke="#8c8c8c" stroke-width="1"/>
<text transform="translate(104.4,403.9) scale(0.96,1)" font-size="15" fill="#222" text-anchor="middle">45</text>
<line x1="151.2" y1="387.1" x2="151.2" y2="383.6" stroke="#8c8c8c" stroke-width="1"/>
<text transform="translate(151.2,403.9) scale(0.96,1)" font-size="15" fill="#222" text-anchor="middle">90</text>
<line x1="198.0" y1="387.1" x2="198.0" y2="383.6" stroke="#8c8c8c" stroke-width="1"/>
<text transform="translate(198.0,403.9) scale(0.96,1)" font-size="15" fill="#222" text-anchor="middle">135</text>
<line x1="244.8" y1="387.1" x2="244.8" y2="383.6" stroke="#8c8c8c" stroke-width="1"/>
<text transform="translate(244.8,403.9) scale(0.96,1)" font-size="15" fill="#222" text-anchor="middle">180</text>
<line x1="291.6" y1="387.1" x2="291.6" y2="383.6" stroke="#8c8c8c" stroke-width="1"/>
<text transform="translate(291.6,403.9) scale(0.96,1)" font-size="15" fill="#222" text-anchor="middle">225</text>
<line x1="338.4" y1="387.1" x2="338.4" y2="383.6" stroke="#8c8c8c" stroke-width="1"/>
<text transform="translate(338.4,403.9) scale(0.96,1)" font-size="15" fill="#222" text-anchor="middle">270</text>
<line x1="385.2" y1="387.1" x2="385.2" y2="383.6" stroke="#8c8c8c" stroke-width="1"/>
<text transform="translate(385.2,403.9) scale(0.96,1)" font-size="15" fill="#222" text-anchor="middle">315</text>
<g clip-path="url(#dclip)">
<path d="M54.3,360.5 L57.6,354.5 L60.9,360.5 L57.6,366.5 Z" fill="#b6e0c0"/>
<path d="M69.9,372.1 L73.2,366.1 L76.5,372.1 L73.2,378.1 Z" fill="#b6e0c0"/>
<path d="M85.5,379.0 L88.8,373.0 L92.1,379.0 L88.8,385.0 Z" fill="#b6e0c0"/>
<path d="M101.1,381.1 L104.4,375.1 L107.7,381.1 L104.4,387.1 Z" fill="#b6e0c0"/>
<path d="M116.7,381.5 L120.0,375.5 L123.3,381.5 L120.0,387.5 Z" fill="#b6e0c0"/>
<path d="M272.7,381.5 L276.0,375.5 L279.3,381.5 L276.0,387.5 Z" fill="#b6e0c0"/>
<path d="M288.3,381.5 L291.6,375.5 L294.9,381.5 L291.6,387.5 Z" fill="#b6e0c0"/>
<path d="M303.9,380.5 L307.2,374.5 L310.5,380.5 L307.2,386.5 Z" fill="#b6e0c0"/>
<path d="M319.5,368.9 L322.8,362.9 L326.1,368.9 L322.8,374.9 Z" fill="#b6e0c0"/>
<path d="M335.1,360.1 L338.4,354.1 L341.7,360.1 L338.4,366.1 Z" fill="#b6e0c0"/>
<path d="M350.7,344.3 L354.0,338.3 L357.3,344.3 L354.0,350.3 Z" fill="#b6e0c0"/>
<path d="M366.3,327.3 L369.6,321.3 L372.9,327.3 L369.6,333.3 Z" fill="#b6e0c0"/>
<path d="M381.9,313.5 L385.2,307.5 L388.5,313.5 L385.2,319.5 Z" fill="#b6e0c0"/>
<path d="M397.5,328.6 L400.8,322.6 L404.1,328.6 L400.8,334.6 Z" fill="#b6e0c0"/>
<path d="M413.1,348.5 L416.4,342.5 L419.7,348.5 L416.4,354.5 Z" fill="#b6e0c0"/>
<path d="M51.6,381.1 L57.6,377.8 L63.6,381.1 L57.6,384.4 Z" fill="#98d0b0"/>
<path d="M67.2,381.5 L73.2,378.2 L79.2,381.5 L73.2,384.8 Z" fill="#98d0b0"/>
<path d="M223.2,381.5 L229.2,378.2 L235.2,381.5 L229.2,384.8 Z" fill="#98d0b0"/>
<path d="M238.8,381.5 L244.8,378.2 L250.8,381.5 L244.8,384.8 Z" fill="#98d0b0"/>
<path d="M254.4,380.7 L260.4,377.4 L266.4,380.7 L260.4,384.0 Z" fill="#98d0b0"/>
<path d="M270.0,370.2 L276.0,366.9 L282.0,370.2 L276.0,373.5 Z" fill="#98d0b0"/>
<path d="M285.6,360.1 L291.6,356.8 L297.6,360.1 L291.6,363.4 Z" fill="#98d0b0"/>
<path d="M301.2,343.9 L307.2,340.6 L313.2,343.9 L307.2,347.2 Z" fill="#98d0b0"/>
<path d="M316.8,318.1 L322.8,314.8 L328.8,318.1 L322.8,321.4 Z" fill="#98d0b0"/>
<path d="M332.4,305.1 L338.4,301.8 L344.4,305.1 L338.4,308.4 Z" fill="#98d0b0"/>
<path d="M348.0,320.6 L354.0,317.3 L360.0,320.6 L354.0,323.9 Z" fill="#98d0b0"/>
<path d="M363.6,343.3 L369.6,340.0 L375.6,343.3 L369.6,346.6 Z" fill="#98d0b0"/>
<path d="M379.2,358.4 L385.2,355.1 L391.2,358.4 L385.2,361.7 Z" fill="#98d0b0"/>
<path d="M394.8,368.5 L400.8,365.2 L406.8,368.5 L400.8,371.8 Z" fill="#98d0b0"/>
<path d="M410.4,377.3 L416.4,374.0 L422.4,377.3 L416.4,380.6 Z" fill="#98d0b0"/>
<path d="M187.0,381.9 L179.0,377.3 L179.0,386.5 Z" fill="#82c2b2"/>
<path d="M202.6,381.5 L194.6,376.9 L194.6,386.1 Z" fill="#82c2b2"/>
<path d="M218.2,381.1 L210.2,376.5 L210.2,385.7 Z" fill="#82c2b2"/>
<path d="M233.8,370.8 L225.8,366.2 L225.8,375.4 Z" fill="#82c2b2"/>
<path d="M249.4,363.0 L241.4,358.4 L241.4,367.6 Z" fill="#82c2b2"/>
<path d="M265.0,350.0 L257.0,345.4 L257.0,354.6 Z" fill="#82c2b2"/>
<path d="M280.6,332.8 L272.6,328.2 L272.6,337.4 Z" fill="#82c2b2"/>
<path d="M296.2,318.5 L288.2,313.9 L288.2,323.1 Z" fill="#82c2b2"/>
<path d="M311.8,329.0 L303.8,324.4 L303.8,333.6 Z" fill="#82c2b2"/>
<path d="M327.4,349.6 L319.4,345.0 L319.4,354.2 Z" fill="#82c2b2"/>
<path d="M343.0,366.4 L335.0,361.8 L335.0,371.0 Z" fill="#82c2b2"/>
<path d="M358.6,372.3 L350.6,367.7 L350.6,376.9 Z" fill="#82c2b2"/>
<path d="M374.2,380.5 L366.2,375.9 L366.2,385.1 Z" fill="#82c2b2"/>
<path d="M389.8,381.5 L381.8,376.9 L381.8,386.1 Z" fill="#82c2b2"/>
<path d="M405.4,381.5 L397.4,376.9 L397.4,386.1 Z" fill="#82c2b2"/>
<path d="M131.0,381.9 L139.0,377.3 L139.0,386.5 Z" fill="#4c9b9a"/>
<path d="M146.6,381.9 L154.6,377.3 L154.6,386.5 Z" fill="#4c9b9a"/>
<path d="M162.2,381.5 L170.2,376.9 L170.2,386.1 Z" fill="#4c9b9a"/>
<path d="M177.8,372.9 L185.8,368.3 L185.8,377.5 Z" fill="#4c9b9a"/>
<path d="M193.4,362.0 L201.4,357.4 L201.4,366.6 Z" fill="#4c9b9a"/>
<path d="M209.0,339.1 L217.0,334.5 L217.0,343.7 Z" fill="#4c9b9a"/>
<path d="M224.6,316.2 L232.6,311.6 L232.6,320.8 Z" fill="#4c9b9a"/>
<path d="M240.2,297.9 L248.2,293.3 L248.2,302.5 Z" fill="#4c9b9a"/>
<path d="M255.8,318.7 L263.8,314.1 L263.8,323.3 Z" fill="#4c9b9a"/>
<path d="M271.4,340.6 L279.4,335.9 L279.4,345.2 Z" fill="#4c9b9a"/>
<path d="M287.0,360.1 L295.0,355.5 L295.0,364.7 Z" fill="#4c9b9a"/>
<path d="M302.6,371.4 L310.6,366.8 L310.6,376.0 Z" fill="#4c9b9a"/>
<path d="M318.2,380.5 L326.2,375.9 L326.2,385.1 Z" fill="#4c9b9a"/>
<path d="M333.8,381.5 L341.8,376.9 L341.8,386.1 Z" fill="#4c9b9a"/>
<path d="M349.4,381.5 L357.4,376.9 L357.4,386.1 Z" fill="#4c9b9a"/>
<path d="M88.8,386.9 L93.4,378.9 L84.2,378.9 Z" fill="#3b8696"/>
<path d="M104.4,386.7 L109.0,378.7 L99.8,378.7 Z" fill="#3b8696"/>
<path d="M120.0,385.1 L124.6,377.1 L115.4,377.1 Z" fill="#3b8696"/>
<path d="M135.6,377.7 L140.2,369.7 L131.0,369.7 Z" fill="#3b8696"/>
<path d="M151.2,358.2 L155.8,350.2 L146.6,350.2 Z" fill="#3b8696"/>
<path d="M166.8,339.9 L171.4,331.9 L162.2,331.9 Z" fill="#3b8696"/>
<path d="M182.4,310.5 L187.0,302.5 L177.8,302.5 Z" fill="#3b8696"/>
<path d="M198.0,292.0 L202.6,284.0 L193.4,284.0 Z" fill="#3b8696"/>
<path d="M213.6,312.6 L218.2,304.6 L209.0,304.6 Z" fill="#3b8696"/>
<path d="M229.2,343.9 L233.8,335.9 L224.6,335.9 Z" fill="#3b8696"/>
<path d="M244.8,359.9 L249.4,351.9 L240.2,351.9 Z" fill="#3b8696"/>
<path d="M260.4,376.7 L265.0,368.7 L255.8,368.7 Z" fill="#3b8696"/>
<path d="M276.0,386.1 L280.6,378.1 L271.4,378.1 Z" fill="#3b8696"/>
<path d="M291.6,386.9 L296.2,378.9 L287.0,378.9 Z" fill="#3b8696"/>
<path d="M307.2,386.9 L311.8,378.9 L302.6,378.9 Z" fill="#3b8696"/>
<path d="M57.6,376.7 L62.2,384.7 L53.0,384.7 Z" fill="#467da0"/>
<path d="M73.2,374.4 L77.8,382.4 L68.6,382.4 Z" fill="#467da0"/>
<path d="M88.8,369.8 L93.4,377.8 L84.2,377.8 Z" fill="#467da0"/>
<path d="M104.4,352.1 L109.0,360.1 L99.8,360.1 Z" fill="#467da0"/>
<path d="M120.0,335.1 L124.6,343.1 L115.4,343.1 Z" fill="#467da0"/>
<path d="M135.6,307.6 L140.2,315.6 L131.0,315.6 Z" fill="#467da0"/>
<path d="M151.2,291.4 L155.8,299.4 L146.6,299.4 Z" fill="#467da0"/>
<path d="M166.8,309.7 L171.4,317.7 L162.2,317.7 Z" fill="#467da0"/>
<path d="M182.4,334.3 L187.0,342.3 L177.8,342.3 Z" fill="#467da0"/>
<path d="M198.0,352.8 L202.6,360.8 L193.4,360.8 Z" fill="#467da0"/>
<path d="M213.6,368.3 L218.2,376.3 L209.0,376.3 Z" fill="#467da0"/>
<path d="M229.2,375.6 L233.8,383.6 L224.6,383.6 Z" fill="#467da0"/>
<path d="M244.8,375.9 L249.4,383.9 L240.2,383.9 Z" fill="#467da0"/>
<path d="M260.4,375.9 L265.0,383.9 L255.8,383.9 Z" fill="#467da0"/>
<path d="M416.4,376.9 L421.0,384.9 L411.8,384.9 Z" fill="#467da0"/>
<rect x="53.6" y="358.0" width="8" height="8" fill="#48699b"/>
<rect x="69.2" y="349.2" width="8" height="8" fill="#48699b"/>
<rect x="84.8" y="326.5" width="8" height="8" fill="#48699b"/>
<rect x="100.4" y="314.7" width="8" height="8" fill="#48699b"/>
<rect x="116.0" y="329.4" width="8" height="8" fill="#48699b"/>
<rect x="131.6" y="347.5" width="8" height="8" fill="#48699b"/>
<rect x="147.2" y="357.3" width="8" height="8" fill="#48699b"/>
<rect x="162.8" y="368.1" width="8" height="8" fill="#48699b"/>
<rect x="178.4" y="377.1" width="8" height="8" fill="#48699b"/>
<rect x="194.0" y="377.5" width="8" height="8" fill="#48699b"/>
<rect x="209.6" y="377.5" width="8" height="8" fill="#48699b"/>
<rect x="365.6" y="377.1" width="8" height="8" fill="#48699b"/>
<rect x="381.2" y="377.1" width="8" height="8" fill="#48699b"/>
<rect x="396.8" y="376.9" width="8" height="8" fill="#48699b"/>
<rect x="412.4" y="371.4" width="8" height="8" fill="#48699b"/>
<circle cx="57.6" cy="309.3" r="4.3" fill="#4b5596"/>
<circle cx="73.2" cy="322.7" r="4.3" fill="#4b5596"/>
<circle cx="88.8" cy="345.6" r="4.3" fill="#4b5596"/>
<circle cx="104.4" cy="360.9" r="4.3" fill="#4b5596"/>
<circle cx="120.0" cy="372.5" r="4.3" fill="#4b5596"/>
<circle cx="135.6" cy="380.7" r="4.3" fill="#4b5596"/>
<circle cx="151.2" cy="381.5" r="4.3" fill="#4b5596"/>
<circle cx="166.8" cy="381.5" r="4.3" fill="#4b5596"/>
<circle cx="322.8" cy="381.5" r="4.3" fill="#4b5596"/>
<circle cx="338.4" cy="381.5" r="4.3" fill="#4b5596"/>
<circle cx="354.0" cy="381.3" r="4.3" fill="#4b5596"/>
<circle cx="369.6" cy="373.5" r="4.3" fill="#4b5596"/>
<circle cx="385.2" cy="359.7" r="4.3" fill="#4b5596"/>
<circle cx="400.8" cy="347.3" r="4.3" fill="#4b5596"/>
<circle cx="416.4" cy="325.0" r="4.3" fill="#4b5596"/>
<path d="M42.00,322.57 L44.08,320.43 L46.16,318.53 L48.24,316.91 L50.32,315.57 L52.40,314.56 L54.48,313.87 L56.56,313.52 L58.64,313.52 L60.72,313.87 L62.80,314.56 L64.88,315.57 L66.96,316.91 L69.04,318.53 L71.12,320.43 L73.20,322.57 L75.28,324.93 L77.36,327.47 L79.44,330.16 L81.52,332.96 L83.60,335.84 L85.68,338.77 L87.76,341.72 L89.84,344.65 L91.92,347.54 L94.00,350.36 L96.08,353.09 L98.16,355.72 L100.24,358.22 L102.32,360.58 L104.40,362.80 L106.48,364.87 L108.56,366.79 L110.64,368.55 L112.72,370.16 L114.80,371.62 L116.88,372.93 L118.96,374.11 L121.04,375.16 L123.12,376.09 L125.20,376.90 L127.28,377.62 L129.36,378.23 L131.44,378.77 L133.52,379.23 L135.60,379.62 L137.68,379.95 L139.76,380.23 L141.84,380.46 L143.92,380.66 L146.00,380.82 L148.08,380.96 L150.16,381.06 L152.24,381.15 L154.32,381.23 L156.40,381.28 L158.48,381.33 L160.56,381.37 L162.64,381.40 L164.72,381.42 L166.80,381.44 L168.88,381.45 L170.96,381.47 L173.04,381.47 L175.12,381.48 L177.20,381.49 L179.28,381.49 L181.36,381.49 L183.44,381.49 L185.52,381.50 L187.60,381.50 L189.68,381.50 L191.76,381.50 L193.84,381.50 L195.92,381.50 L198.00,381.50 L200.08,381.50 L202.16,381.50 L204.24,381.50 L206.32,381.50 L208.40,381.50 L210.48,381.50 L212.56,381.50 L214.64,381.50 L216.72,381.50 L218.80,381.50 L220.88,381.50 L222.96,381.50 L225.04,381.50 L227.12,381.50 L229.20,381.50 L231.28,381.50 L233.36,381.50 L235.44,381.50 L237.52,381.50 L239.60,381.50 L241.68,381.50 L243.76,381.50 L245.84,381.50 L247.92,381.50 L250.00,381.50 L252.08,381.50 L254.16,381.50 L256.24,381.50 L258.32,381.50 L260.40,381.50 L262.48,381.50 L264.56,381.50 L266.64,381.50 L268.72,381.50 L270.80,381.50 L272.88,381.50 L274.96,381.50 L277.04,381.50 L279.12,381.50 L281.20,381.50 L283.28,381.50 L285.36,381.50 L287.44,381.50 L289.52,381.50 L291.60,381.50 L293.68,381.50 L295.76,381.50 L297.84,381.50 L299.92,381.50 L302.00,381.50 L304.08,381.50 L306.16,381.49 L308.24,381.49 L310.32,381.49 L312.40,381.49 L314.48,381.48 L316.56,381.47 L318.64,381.47 L320.72,381.45 L322.80,381.44 L324.88,381.42 L326.96,381.40 L329.04,381.37 L331.12,381.33 L333.20,381.28 L335.28,381.23 L337.36,381.15 L339.44,381.06 L341.52,380.96 L343.60,380.82 L345.68,380.66 L347.76,380.46 L349.84,380.23 L351.92,379.95 L354.00,379.62 L356.08,379.23 L358.16,378.77 L360.24,378.23 L362.32,377.62 L364.40,376.90 L366.48,376.09 L368.56,375.16 L370.64,374.11 L372.72,372.93 L374.80,371.62 L376.88,370.16 L378.96,368.55 L381.04,366.79 L383.12,364.87 L385.20,362.80 L387.28,360.58 L389.36,358.22 L391.44,355.72 L393.52,353.09 L395.60,350.36 L397.68,347.54 L399.76,344.65 L401.84,341.72 L403.92,338.77 L406.00,335.84 L408.08,332.96 L410.16,330.16 L412.24,327.47 L414.32,324.93 L416.40,322.57 L418.48,320.43 L420.56,318.53 L422.64,316.91 L424.72,315.57 L426.80,314.56 L428.88,313.87 L430.96,313.52 " stroke="#4b5596" stroke-width="1" fill="none"/>
<path d="M42.00,375.23 L44.08,374.29 L46.16,373.22 L48.24,372.04 L50.32,370.73 L52.40,369.29 L54.48,367.72 L56.56,366.02 L58.64,364.19 L60.72,362.23 L62.80,360.15 L64.88,357.96 L66.96,355.67 L69.04,353.30 L71.12,350.86 L73.20,348.37 L75.28,345.86 L77.36,343.35 L79.44,340.87 L81.52,338.44 L83.60,336.09 L85.68,333.85 L87.76,331.76 L89.84,329.84 L91.92,328.11 L94.00,326.60 L96.08,325.34 L98.16,324.33 L100.24,323.60 L102.32,323.16 L104.40,323.01 L106.48,323.16 L108.56,323.60 L110.64,324.33 L112.72,325.34 L114.80,326.60 L116.88,328.11 L118.96,329.84 L121.04,331.76 L123.12,333.85 L125.20,336.09 L127.28,338.44 L129.36,340.87 L131.44,343.35 L133.52,345.86 L135.60,348.37 L137.68,350.86 L139.76,353.30 L141.84,355.67 L143.92,357.96 L146.00,360.15 L148.08,362.23 L150.16,364.19 L152.24,366.02 L154.32,367.72 L156.40,369.29 L158.48,370.73 L160.56,372.04 L162.64,373.22 L164.72,374.29 L166.80,375.23 L168.88,376.08 L170.96,376.82 L173.04,377.47 L175.12,378.04 L177.20,378.53 L179.28,378.95 L181.36,379.31 L183.44,379.62 L185.52,379.88 L187.60,380.10 L189.68,380.28 L191.76,380.43 L193.84,380.56 L195.92,380.66 L198.00,380.75 L200.08,380.82 L202.16,380.87 L204.24,380.92 L206.32,380.95 L208.40,380.98 L210.48,381.00 L212.56,381.02 L214.64,381.04 L216.72,381.05 L218.80,381.05 L220.88,381.06 L222.96,381.07 L225.04,381.07 L227.12,381.07 L229.20,381.07 L231.28,381.08 L233.36,381.08 L235.44,381.08 L237.52,381.08 L239.60,381.08 L241.68,381.08 L243.76,381.08 L245.84,381.08 L247.92,381.08 L250.00,381.08 L252.08,381.08 L254.16,381.08 L256.24,381.08 L258.32,381.08 L260.40,381.08 L262.48,381.08 L264.56,381.08 L266.64,381.08 L268.72,381.08 L270.80,381.08 L272.88,381.08 L274.96,381.08 L277.04,381.08 L279.12,381.08 L281.20,381.08 L283.28,381.08 L285.36,381.08 L287.44,381.08 L289.52,381.08 L291.60,381.08 L293.68,381.08 L295.76,381.08 L297.84,381.08 L299.92,381.08 L302.00,381.08 L304.08,381.08 L306.16,381.08 L308.24,381.08 L310.32,381.08 L312.40,381.08 L314.48,381.08 L316.56,381.08 L318.64,381.08 L320.72,381.08 L322.80,381.08 L324.88,381.08 L326.96,381.08 L329.04,381.08 L331.12,381.08 L333.20,381.08 L335.28,381.08 L337.36,381.08 L339.44,381.08 L341.52,381.08 L343.60,381.08 L345.68,381.08 L347.76,381.08 L349.84,381.08 L351.92,381.08 L354.00,381.07 L356.08,381.07 L358.16,381.07 L360.24,381.07 L362.32,381.06 L364.40,381.05 L366.48,381.05 L368.56,381.04 L370.64,381.02 L372.72,381.00 L374.80,380.98 L376.88,380.95 L378.96,380.92 L381.04,380.87 L383.12,380.82 L385.20,380.75 L387.28,380.66 L389.36,380.56 L391.44,380.43 L393.52,380.28 L395.60,380.10 L397.68,379.88 L399.76,379.62 L401.84,379.31 L403.92,378.95 L406.00,378.53 L408.08,378.04 L410.16,377.47 L412.24,376.82 L414.32,376.08 L416.40,375.23 L418.48,374.29 L420.56,373.22 L422.64,372.04 L424.72,370.73 L426.80,369.29 L428.88,367.72 L430.96,366.02 " stroke="#48699b" stroke-width="1" fill="none"/>
<path d="M42.00,381.02 L44.08,381.01 L46.16,380.99 L48.24,380.96 L50.32,380.92 L52.40,380.87 L54.48,380.82 L56.56,380.74 L58.64,380.65 L60.72,380.54 L62.80,380.40 L64.88,380.23 L66.96,380.03 L69.04,379.78 L71.12,379.48 L73.20,379.12 L75.28,378.70 L77.36,378.20 L79.44,377.62 L81.52,376.93 L83.60,376.14 L85.68,375.23 L87.76,374.19 L89.84,373.01 L91.92,371.67 L94.00,370.16 L96.08,368.49 L98.16,366.63 L100.24,364.59 L102.32,362.36 L104.40,359.93 L106.48,357.33 L108.56,354.53 L110.64,351.57 L112.72,348.45 L114.80,345.19 L116.88,341.82 L118.96,338.35 L121.04,334.82 L123.12,331.27 L125.20,327.72 L127.28,324.23 L129.36,320.82 L131.44,317.55 L133.52,314.45 L135.60,311.57 L137.68,308.95 L139.76,306.62 L141.84,304.63 L143.92,302.99 L146.00,301.74 L148.08,300.90 L150.16,300.47 L152.24,300.47 L154.32,300.90 L156.40,301.74 L158.48,302.99 L160.56,304.63 L162.64,306.62 L164.72,308.95 L166.80,311.57 L168.88,314.45 L170.96,317.55 L173.04,320.82 L175.12,324.23 L177.20,327.72 L179.28,331.27 L181.36,334.82 L183.44,338.35 L185.52,341.82 L187.60,345.19 L189.68,348.45 L191.76,351.57 L193.84,354.53 L195.92,357.33 L198.00,359.93 L200.08,362.36 L202.16,364.59 L204.24,366.63 L206.32,368.49 L208.40,370.16 L210.48,371.67 L212.56,373.01 L214.64,374.19 L216.72,375.23 L218.80,376.14 L220.88,376.93 L222.96,377.62 L225.04,378.20 L227.12,378.70 L229.20,379.12 L231.28,379.48 L233.36,379.78 L235.44,380.03 L237.52,380.23 L239.60,380.40 L241.68,380.54 L243.76,380.65 L245.84,380.74 L247.92,380.82 L250.00,380.87 L252.08,380.92 L254.16,380.96 L256.24,380.99 L258.32,381.01 L260.40,381.02 L262.48,381.04 L264.56,381.05 L266.64,381.06 L268.72,381.06 L270.80,381.07 L272.88,381.07 L274.96,381.07 L277.04,381.07 L279.12,381.08 L281.20,381.08 L283.28,381.08 L285.36,381.08 L287.44,381.08 L289.52,381.08 L291.60,381.08 L293.68,381.08 L295.76,381.08 L297.84,381.08 L299.92,381.08 L302.00,381.08 L304.08,381.08 L306.16,381.08 L308.24,381.08 L310.32,381.08 L312.40,381.08 L314.48,381.08 L316.56,381.08 L318.64,381.08 L320.72,381.08 L322.80,381.08 L324.88,381.08 L326.96,381.08 L329.04,381.08 L331.12,381.08 L333.20,381.08 L335.28,381.08 L337.36,381.08 L339.44,381.08 L341.52,381.08 L343.60,381.08 L345.68,381.08 L347.76,381.08 L349.84,381.08 L351.92,381.08 L354.00,381.08 L356.08,381.08 L358.16,381.08 L360.24,381.08 L362.32,381.08 L364.40,381.08 L366.48,381.08 L368.56,381.08 L370.64,381.08 L372.72,381.08 L374.80,381.08 L376.88,381.08 L378.96,381.08 L381.04,381.08 L383.12,381.08 L385.20,381.08 L387.28,381.08 L389.36,381.08 L391.44,381.08 L393.52,381.08 L395.60,381.08 L397.68,381.08 L399.76,381.07 L401.84,381.07 L403.92,381.07 L406.00,381.07 L408.08,381.06 L410.16,381.06 L412.24,381.05 L414.32,381.04 L416.40,381.02 L418.48,381.01 L420.56,380.99 L422.64,380.96 L424.72,380.92 L426.80,380.87 L428.88,380.82 L430.96,380.74 " stroke="#467da0" stroke-width="1" fill="none"/>
<path d="M42.00,381.92 L44.08,381.92 L46.16,381.92 L48.24,381.92 L50.32,381.92 L52.40,381.92 L54.48,381.92 L56.56,381.92 L58.64,381.92 L60.72,381.92 L62.80,381.92 L64.88,381.92 L66.96,381.92 L69.04,381.92 L71.12,381.92 L73.20,381.91 L75.28,381.91 L77.36,381.91 L79.44,381.90 L81.52,381.90 L83.60,381.89 L85.68,381.88 L87.76,381.87 L89.84,381.85 L91.92,381.83 L94.00,381.80 L96.08,381.76 L98.16,381.72 L100.24,381.66 L102.32,381.59 L104.40,381.50 L106.48,381.39 L108.56,381.25 L110.64,381.08 L112.72,380.88 L114.80,380.63 L116.88,380.33 L118.96,379.97 L121.04,379.54 L123.12,379.03 L125.20,378.43 L127.28,377.74 L129.36,376.93 L131.44,375.99 L133.52,374.91 L135.60,373.69 L137.68,372.30 L139.76,370.73 L141.84,368.98 L143.92,367.03 L146.00,364.88 L148.08,362.52 L150.16,359.96 L152.24,357.18 L154.32,354.20 L156.40,351.03 L158.48,347.67 L160.56,344.15 L162.64,340.49 L164.72,336.71 L166.80,332.85 L168.88,328.93 L170.96,325.01 L173.04,321.12 L175.12,317.31 L177.20,313.62 L179.28,310.10 L181.36,306.80 L183.44,303.76 L185.52,301.02 L187.60,298.64 L189.68,296.63 L191.76,295.04 L193.84,293.88 L195.92,293.18 L198.00,292.94 L200.08,293.18 L202.16,293.88 L204.24,295.04 L206.32,296.63 L208.40,298.64 L210.48,301.02 L212.56,303.76 L214.64,306.80 L216.72,310.10 L218.80,313.62 L220.88,317.31 L222.96,321.12 L225.04,325.01 L227.12,328.93 L229.20,332.85 L231.28,336.71 L233.36,340.49 L235.44,344.15 L237.52,347.67 L239.60,351.03 L241.68,354.20 L243.76,357.18 L245.84,359.96 L247.92,362.52 L250.00,364.88 L252.08,367.03 L254.16,368.98 L256.24,370.73 L258.32,372.30 L260.40,373.69 L262.48,374.91 L264.56,375.99 L266.64,376.93 L268.72,377.74 L270.80,378.43 L272.88,379.03 L274.96,379.54 L277.04,379.97 L279.12,380.33 L281.20,380.63 L283.28,380.88 L285.36,381.08 L287.44,381.25 L289.52,381.39 L291.60,381.50 L293.68,381.59 L295.76,381.66 L297.84,381.72 L299.92,381.76 L302.00,381.80 L304.08,381.83 L306.16,381.85 L308.24,381.87 L310.32,381.88 L312.40,381.89 L314.48,381.90 L316.56,381.90 L318.64,381.91 L320.72,381.91 L322.80,381.91 L324.88,381.92 L326.96,381.92 L329.04,381.92 L331.12,381.92 L333.20,381.92 L335.28,381.92 L337.36,381.92 L339.44,381.92 L341.52,381.92 L343.60,381.92 L345.68,381.92 L347.76,381.92 L349.84,381.92 L351.92,381.92 L354.00,381.92 L356.08,381.92 L358.16,381.92 L360.24,381.92 L362.32,381.92 L364.40,381.92 L366.48,381.92 L368.56,381.92 L370.64,381.92 L372.72,381.92 L374.80,381.92 L376.88,381.92 L378.96,381.92 L381.04,381.92 L383.12,381.92 L385.20,381.92 L387.28,381.92 L389.36,381.92 L391.44,381.92 L393.52,381.92 L395.60,381.92 L397.68,381.92 L399.76,381.92 L401.84,381.92 L403.92,381.92 L406.00,381.92 L408.08,381.92 L410.16,381.92 L412.24,381.92 L414.32,381.92 L416.40,381.92 L418.48,381.92 L420.56,381.92 L422.64,381.92 L424.72,381.92 L426.80,381.92 L428.88,381.92 L430.96,381.92 " stroke="#3b8696" stroke-width="1" fill="none"/>
<path d="M42.00,381.50 L44.08,381.50 L46.16,381.50 L48.24,381.50 L50.32,381.50 L52.40,381.50 L54.48,381.50 L56.56,381.50 L58.64,381.50 L60.72,381.50 L62.80,381.50 L64.88,381.50 L66.96,381.50 L69.04,381.50 L71.12,381.50 L73.20,381.50 L75.28,381.50 L77.36,381.50 L79.44,381.50 L81.52,381.50 L83.60,381.50 L85.68,381.50 L87.76,381.50 L89.84,381.50 L91.92,381.50 L94.00,381.50 L96.08,381.50 L98.16,381.50 L100.24,381.50 L102.32,381.50 L104.40,381.50 L106.48,381.50 L108.56,381.50 L110.64,381.50 L112.72,381.50 L114.80,381.50 L116.88,381.50 L118.96,381.50 L121.04,381.49 L123.12,381.49 L125.20,381.49 L127.28,381.49 L129.36,381.48 L131.44,381.47 L133.52,381.46 L135.60,381.45 L137.68,381.44 L139.76,381.42 L141.84,381.39 L143.92,381.36 L146.00,381.32 L148.08,381.27 L150.16,381.20 L152.24,381.12 L154.32,381.02 L156.40,380.90 L158.48,380.75 L160.56,380.56 L162.64,380.33 L164.72,380.06 L166.80,379.73 L168.88,379.34 L170.96,378.88 L173.04,378.34 L175.12,377.70 L177.20,376.96 L179.28,376.11 L181.36,375.13 L183.44,374.01 L185.52,372.75 L187.60,371.32 L189.68,369.73 L191.76,367.96 L193.84,366.01 L195.92,363.87 L198.00,361.54 L200.08,359.03 L202.16,356.34 L204.24,353.48 L206.32,350.46 L208.40,347.30 L210.48,344.02 L212.56,340.64 L214.64,337.20 L216.72,333.73 L218.80,330.27 L220.88,326.85 L222.96,323.51 L225.04,320.30 L227.12,317.26 L229.20,314.43 L231.28,311.86 L233.36,309.57 L235.44,307.61 L237.52,306.00 L239.60,304.77 L241.68,303.94 L243.76,303.52 L245.84,303.52 L247.92,303.94 L250.00,304.77 L252.08,306.00 L254.16,307.61 L256.24,309.57 L258.32,311.86 L260.40,314.43 L262.48,317.26 L264.56,320.30 L266.64,323.51 L268.72,326.85 L270.80,330.27 L272.88,333.73 L274.96,337.20 L277.04,340.64 L279.12,344.02 L281.20,347.30 L283.28,350.46 L285.36,353.48 L287.44,356.34 L289.52,359.03 L291.60,361.54 L293.68,363.87 L295.76,366.01 L297.84,367.96 L299.92,369.73 L302.00,371.32 L304.08,372.75 L306.16,374.01 L308.24,375.13 L310.32,376.11 L312.40,376.96 L314.48,377.70 L316.56,378.34 L318.64,378.88 L320.72,379.34 L322.80,379.73 L324.88,380.06 L326.96,380.33 L329.04,380.56 L331.12,380.75 L333.20,380.90 L335.28,381.02 L337.36,381.12 L339.44,381.20 L341.52,381.27 L343.60,381.32 L345.68,381.36 L347.76,381.39 L349.84,381.42 L351.92,381.44 L354.00,381.45 L356.08,381.46 L358.16,381.47 L360.24,381.48 L362.32,381.49 L364.40,381.49 L366.48,381.49 L368.56,381.49 L370.64,381.50 L372.72,381.50 L374.80,381.50 L376.88,381.50 L378.96,381.50 L381.04,381.50 L383.12,381.50 L385.20,381.50 L387.28,381.50 L389.36,381.50 L391.44,381.50 L393.52,381.50 L395.60,381.50 L397.68,381.50 L399.76,381.50 L401.84,381.50 L403.92,381.50 L406.00,381.50 L408.08,381.50 L410.16,381.50 L412.24,381.50 L414.32,381.50 L416.40,381.50 L418.48,381.50 L420.56,381.50 L422.64,381.50 L424.72,381.50 L426.80,381.50 L428.88,381.50 L430.96,381.50 " stroke="#4c9b9a" stroke-width="1" fill="none"/>
<path d="M42.00,381.07 L44.08,381.08 L46.16,381.08 L48.24,381.08 L50.32,381.08 L52.40,381.08 L54.48,381.08 L56.56,381.08 L58.64,381.08 L60.72,381.08 L62.80,381.08 L64.88,381.08 L66.96,381.08 L69.04,381.08 L71.12,381.08 L73.20,381.08 L75.28,381.08 L77.36,381.08 L79.44,381.08 L81.52,381.08 L83.60,381.08 L85.68,381.08 L87.76,381.08 L89.84,381.08 L91.92,381.08 L94.00,381.08 L96.08,381.08 L98.16,381.08 L100.24,381.08 L102.32,381.08 L104.40,381.08 L106.48,381.08 L108.56,381.08 L110.64,381.08 L112.72,381.08 L114.80,381.08 L116.88,381.08 L118.96,381.08 L121.04,381.08 L123.12,381.08 L125.20,381.08 L127.28,381.08 L129.36,381.08 L131.44,381.08 L133.52,381.08 L135.60,381.08 L137.68,381.08 L139.76,381.08 L141.84,381.08 L143.92,381.08 L146.00,381.08 L148.08,381.08 L150.16,381.08 L152.24,381.08 L154.32,381.08 L156.40,381.08 L158.48,381.08 L160.56,381.08 L162.64,381.08 L164.72,381.08 L166.80,381.07 L168.88,381.07 L170.96,381.07 L173.04,381.07 L175.12,381.06 L177.20,381.05 L179.28,381.05 L181.36,381.03 L183.44,381.02 L185.52,381.00 L187.60,380.98 L189.68,380.95 L191.76,380.91 L193.84,380.87 L195.92,380.81 L198.00,380.74 L200.08,380.66 L202.16,380.55 L204.24,380.42 L206.32,380.27 L208.40,380.08 L210.48,379.86 L212.56,379.59 L214.64,379.28 L216.72,378.91 L218.80,378.48 L220.88,377.98 L222.96,377.40 L225.04,376.74 L227.12,375.98 L229.20,375.12 L231.28,374.16 L233.36,373.07 L235.44,371.87 L237.52,370.53 L239.60,369.07 L241.68,367.47 L243.76,365.74 L245.84,363.87 L247.92,361.87 L250.00,359.76 L252.08,357.53 L254.16,355.19 L256.24,352.78 L258.32,350.29 L260.40,347.76 L262.48,345.20 L264.56,342.64 L266.64,340.11 L268.72,337.63 L270.80,335.24 L272.88,332.97 L274.96,330.83 L277.04,328.87 L279.12,327.11 L281.20,325.58 L283.28,324.29 L285.36,323.27 L287.44,322.52 L289.52,322.07 L291.60,321.92 L293.68,322.07 L295.76,322.52 L297.84,323.27 L299.92,324.29 L302.00,325.58 L304.08,327.11 L306.16,328.87 L308.24,330.83 L310.32,332.97 L312.40,335.24 L314.48,337.63 L316.56,340.11 L318.64,342.64 L320.72,345.20 L322.80,347.76 L324.88,350.29 L326.96,352.78 L329.04,355.19 L331.12,357.53 L333.20,359.76 L335.28,361.87 L337.36,363.87 L339.44,365.74 L341.52,367.47 L343.60,369.07 L345.68,370.53 L347.76,371.87 L349.84,373.07 L351.92,374.16 L354.00,375.12 L356.08,375.98 L358.16,376.74 L360.24,377.40 L362.32,377.98 L364.40,378.48 L366.48,378.91 L368.56,379.28 L370.64,379.59 L372.72,379.86 L374.80,380.08 L376.88,380.27 L378.96,380.42 L381.04,380.55 L383.12,380.66 L385.20,380.74 L387.28,380.81 L389.36,380.87 L391.44,380.91 L393.52,380.95 L395.60,380.98 L397.68,381.00 L399.76,381.02 L401.84,381.03 L403.92,381.05 L406.00,381.05 L408.08,381.06 L410.16,381.07 L412.24,381.07 L414.32,381.07 L416.40,381.07 L418.48,381.08 L420.56,381.08 L422.64,381.08 L424.72,381.08 L426.80,381.08 L428.88,381.08 L430.96,381.08 " stroke="#82c2b2" stroke-width="1" fill="none"/>
<path d="M42.00,378.83 L44.08,379.21 L46.16,379.54 L48.24,379.81 L50.32,380.05 L52.40,380.24 L54.48,380.40 L56.56,380.53 L58.64,380.64 L60.72,380.73 L62.80,380.80 L64.88,380.86 L66.96,380.91 L69.04,380.95 L71.12,380.98 L73.20,381.00 L75.28,381.02 L77.36,381.03 L79.44,381.04 L81.52,381.05 L83.60,381.06 L85.68,381.06 L87.76,381.07 L89.84,381.07 L91.92,381.07 L94.00,381.08 L96.08,381.08 L98.16,381.08 L100.24,381.08 L102.32,381.08 L104.40,381.08 L106.48,381.08 L108.56,381.08 L110.64,381.08 L112.72,381.08 L114.80,381.08 L116.88,381.08 L118.96,381.08 L121.04,381.08 L123.12,381.08 L125.20,381.08 L127.28,381.08 L129.36,381.08 L131.44,381.08 L133.52,381.08 L135.60,381.08 L137.68,381.08 L139.76,381.08 L141.84,381.08 L143.92,381.08 L146.00,381.08 L148.08,381.08 L150.16,381.08 L152.24,381.08 L154.32,381.08 L156.40,381.08 L158.48,381.08 L160.56,381.08 L162.64,381.08 L164.72,381.08 L166.80,381.08 L168.88,381.08 L170.96,381.08 L173.04,381.08 L175.12,381.08 L177.20,381.08 L179.28,381.08 L181.36,381.08 L183.44,381.08 L185.52,381.08 L187.60,381.08 L189.68,381.08 L191.76,381.08 L193.84,381.08 L195.92,381.08 L198.00,381.08 L200.08,381.08 L202.16,381.08 L204.24,381.08 L206.32,381.08 L208.40,381.08 L210.48,381.07 L212.56,381.07 L214.64,381.07 L216.72,381.06 L218.80,381.06 L220.88,381.05 L222.96,381.04 L225.04,381.03 L227.12,381.02 L229.20,381.00 L231.28,380.98 L233.36,380.95 L235.44,380.91 L237.52,380.86 L239.60,380.80 L241.68,380.73 L243.76,380.64 L245.84,380.53 L247.92,380.40 L250.00,380.24 L252.08,380.05 L254.16,379.81 L256.24,379.54 L258.32,379.21 L260.40,378.83 L262.48,378.38 L264.56,377.85 L266.64,377.25 L268.72,376.55 L270.80,375.75 L272.88,374.84 L274.96,373.81 L277.04,372.65 L279.12,371.36 L281.20,369.92 L283.28,368.34 L285.36,366.60 L287.44,364.70 L289.52,362.64 L291.60,360.43 L293.68,358.07 L295.76,355.56 L297.84,352.92 L299.92,350.16 L302.00,347.29 L304.08,344.34 L306.16,341.33 L308.24,338.28 L310.32,335.23 L312.40,332.20 L314.48,329.22 L316.56,326.33 L318.64,323.57 L320.72,320.96 L322.80,318.55 L324.88,316.36 L326.96,314.42 L329.04,312.75 L331.12,311.39 L333.20,310.36 L335.28,309.66 L337.36,309.30 L339.44,309.30 L341.52,309.66 L343.60,310.36 L345.68,311.39 L347.76,312.75 L349.84,314.42 L351.92,316.36 L354.00,318.55 L356.08,320.96 L358.16,323.57 L360.24,326.33 L362.32,329.22 L364.40,332.20 L366.48,335.23 L368.56,338.28 L370.64,341.33 L372.72,344.34 L374.80,347.29 L376.88,350.16 L378.96,352.92 L381.04,355.56 L383.12,358.07 L385.20,360.43 L387.28,362.64 L389.36,364.70 L391.44,366.60 L393.52,368.34 L395.60,369.92 L397.68,371.36 L399.76,372.65 L401.84,373.81 L403.92,374.84 L406.00,375.75 L408.08,376.55 L410.16,377.25 L412.24,377.85 L414.32,378.38 L416.40,378.83 L418.48,379.21 L420.56,379.54 L422.64,379.81 L424.72,380.05 L426.80,380.24 L428.88,380.40 L430.96,380.53 " stroke="#98d0b0" stroke-width="1" fill="none"/>
<path d="M42.00,343.78 L44.08,346.34 L46.16,348.88 L48.24,351.37 L50.32,353.79 L52.40,356.13 L54.48,358.37 L56.56,360.51 L58.64,362.53 L60.72,364.43 L62.80,366.20 L64.88,367.85 L66.96,369.37 L69.04,370.76 L71.12,372.02 L73.20,373.17 L75.28,374.21 L77.36,375.13 L79.44,375.96 L81.52,376.69 L83.60,377.33 L85.68,377.90 L87.76,378.39 L89.84,378.82 L91.92,379.18 L94.00,379.50 L96.08,379.77 L98.16,379.99 L100.24,380.19 L102.32,380.35 L104.40,380.48 L106.48,380.60 L108.56,380.69 L110.64,380.77 L112.72,380.83 L114.80,380.88 L116.88,380.92 L118.96,380.95 L121.04,380.98 L123.12,381.00 L125.20,381.02 L127.28,381.03 L129.36,381.04 L131.44,381.05 L133.52,381.06 L135.60,381.06 L137.68,381.07 L139.76,381.07 L141.84,381.07 L143.92,381.07 L146.00,381.08 L148.08,381.08 L150.16,381.08 L152.24,381.08 L154.32,381.08 L156.40,381.08 L158.48,381.08 L160.56,381.08 L162.64,381.08 L164.72,381.08 L166.80,381.08 L168.88,381.08 L170.96,381.08 L173.04,381.08 L175.12,381.08 L177.20,381.08 L179.28,381.08 L181.36,381.08 L183.44,381.08 L185.52,381.08 L187.60,381.08 L189.68,381.08 L191.76,381.08 L193.84,381.08 L195.92,381.08 L198.00,381.08 L200.08,381.08 L202.16,381.08 L204.24,381.08 L206.32,381.08 L208.40,381.08 L210.48,381.08 L212.56,381.08 L214.64,381.08 L216.72,381.08 L218.80,381.08 L220.88,381.08 L222.96,381.08 L225.04,381.08 L227.12,381.08 L229.20,381.08 L231.28,381.08 L233.36,381.08 L235.44,381.08 L237.52,381.08 L239.60,381.08 L241.68,381.08 L243.76,381.08 L245.84,381.08 L247.92,381.08 L250.00,381.08 L252.08,381.07 L254.16,381.07 L256.24,381.07 L258.32,381.07 L260.40,381.06 L262.48,381.06 L264.56,381.05 L266.64,381.04 L268.72,381.03 L270.80,381.02 L272.88,381.00 L274.96,380.98 L277.04,380.95 L279.12,380.92 L281.20,380.88 L283.28,380.83 L285.36,380.77 L287.44,380.69 L289.52,380.60 L291.60,380.48 L293.68,380.35 L295.76,380.19 L297.84,379.99 L299.92,379.77 L302.00,379.50 L304.08,379.18 L306.16,378.82 L308.24,378.39 L310.32,377.90 L312.40,377.33 L314.48,376.69 L316.56,375.96 L318.64,375.13 L320.72,374.21 L322.80,373.17 L324.88,372.02 L326.96,370.76 L329.04,369.37 L331.12,367.85 L333.20,366.20 L335.28,364.43 L337.36,362.53 L339.44,360.51 L341.52,358.37 L343.60,356.13 L345.68,353.79 L347.76,351.37 L349.84,348.88 L351.92,346.34 L354.00,343.78 L356.08,341.21 L358.16,338.66 L360.24,336.15 L362.32,333.71 L364.40,331.37 L366.48,329.15 L368.56,327.08 L370.64,325.18 L372.72,323.49 L374.80,322.01 L376.88,320.78 L378.96,319.80 L381.04,319.09 L383.12,318.66 L385.20,318.52 L387.28,318.66 L389.36,319.09 L391.44,319.80 L393.52,320.78 L395.60,322.01 L397.68,323.49 L399.76,325.18 L401.84,327.08 L403.92,329.15 L406.00,331.37 L408.08,333.71 L410.16,336.15 L412.24,338.66 L414.32,341.21 L416.40,343.78 L418.48,346.34 L420.56,348.88 L422.64,351.37 L424.72,353.79 L426.80,356.13 L428.88,358.37 L430.96,360.51 " stroke="#b6e0c0" stroke-width="1" fill="none"/>
</g>
<text x="48" y="293" font-size="16" fill="#4b5596">#1</text>
<text x="95" y="302" font-size="16" fill="#48699b">#2</text>
<text x="141.9" y="282.9" font-size="16" fill="#467da0">#3</text>
<text x="188.2" y="273.4" font-size="16" fill="#3d7e8e">#4</text>
<text x="235" y="285.5" font-size="16" fill="#4c9b9a">#5</text>
<text x="281.8" y="302.6" font-size="16" fill="#78b0a0">#6</text>
<text x="327.9" y="298" font-size="16" fill="#96c8aa">#7</text>
<text x="377.2" y="302.6" font-size="16" fill="#b9e1c3">#8</text>
<circle cx="374" cy="268" r="17.8" fill="none" stroke="#c0785a" stroke-width="1"/>
<path d="M374,268 L403,268 M374,268 L392.7,241" stroke="#555" stroke-width="0.7" stroke-dasharray="1.6,1.3"/>
<rect x="390.0" y="266.2" width="3.6" height="3.6" fill="#f0a820"/>
<rect x="384.8" y="253.6" width="3.6" height="3.6" fill="#f0a820"/>
<rect x="372.2" y="248.4" width="3.6" height="3.6" fill="#f0a820"/>
<rect x="359.6" y="253.6" width="3.6" height="3.6" fill="#f0a820"/>
<rect x="354.4" y="266.2" width="3.6" height="3.6" fill="#f0a820"/>
<rect x="359.6" y="278.8" width="3.6" height="3.6" fill="#f0a820"/>
<rect x="372.2" y="284.0" width="3.6" height="3.6" fill="#f0a820"/>
<rect x="384.8" y="278.8" width="3.6" height="3.6" fill="#f0a820"/>
<path d="M398.5,268 A24.5,24.5 0 0 0 389.1,248.7" stroke="#333" stroke-width="0.9" fill="none"/>
<text x="398" y="258" font-size="17" font-style="italic" fill="#333">θ</text>
<text x="405.5" y="273" font-size="14" fill="#44508f">#1</text>
<text transform="translate(10.8,371) rotate(-90)" font-size="15.1" fill="#222">Photocurrent (nA)</text>
<text x="223.4" y="423.4" font-size="15.2" fill="#222"><tspan font-style="italic">θ</tspan> (º)</text>
</g>
<g id="pe">
<rect x="527.2" y="236.3" width="150.8" height="150.3" fill="none" stroke="#8c8c8c" stroke-width="1"/>
<line x1="527.2" y1="378.8" x2="531.8" y2="378.8" stroke="#8c8c8c" stroke-width="1"/>
<line x1="678" y1="378.8" x2="673.4" y2="378.8" stroke="#8c8c8c" stroke-width="1"/>
<text transform="translate(524,384.1) scale(0.97,1)" font-size="14.8" fill="#222" text-anchor="end">0</text>
<line x1="535.6" y1="386.6" x2="535.6" y2="382" stroke="#8c8c8c" stroke-width="1"/>
<text transform="translate(535.6,403.6) scale(0.97,1)" font-size="14.8" fill="#222" text-anchor="middle">0</text>
<line x1="527.2" y1="344.5" x2="531.8" y2="344.5" stroke="#8c8c8c" stroke-width="1"/>
<line x1="678" y1="344.5" x2="673.4" y2="344.5" stroke="#8c8c8c" stroke-width="1"/>
<text transform="translate(524,349.8) scale(0.97,1)" font-size="14.8" fill="#222" text-anchor="end">90</text>
<line x1="569.9" y1="386.6" x2="569.9" y2="382" stroke="#8c8c8c" stroke-width="1"/>
<text transform="translate(569.9,403.6) scale(0.97,1)" font-size="14.8" fill="#222" text-anchor="middle">90</text>
<line x1="527.2" y1="310.3" x2="531.8" y2="310.3" stroke="#8c8c8c" stroke-width="1"/>
<line x1="678" y1="310.3" x2="673.4" y2="310.3" stroke="#8c8c8c" stroke-width="1"/>
<text transform="translate(524,315.6) scale(0.97,1)" font-size="14.8" fill="#222" text-anchor="end">180</text>
<line x1="604.2" y1="386.6" x2="604.2" y2="382" stroke="#8c8c8c" stroke-width="1"/>
<text transform="translate(604.2,403.6) scale(0.97,1)" font-size="14.8" fill="#222" text-anchor="middle">180</text>
<line x1="527.2" y1="276.0" x2="531.8" y2="276.0" stroke="#8c8c8c" stroke-width="1"/>
<line x1="678" y1="276.0" x2="673.4" y2="276.0" stroke="#8c8c8c" stroke-width="1"/>
<text transform="translate(524,281.3) scale(0.97,1)" font-size="14.8" fill="#222" text-anchor="end">270</text>
<line x1="638.6" y1="386.6" x2="638.6" y2="382" stroke="#8c8c8c" stroke-width="1"/>
<text transform="translate(638.6,403.6) scale(0.97,1)" font-size="14.8" fill="#222" text-anchor="middle">270</text>
<line x1="527.2" y1="241.7" x2="531.8" y2="241.7" stroke="#8c8c8c" stroke-width="1"/>
<line x1="678" y1="241.7" x2="673.4" y2="241.7" stroke="#8c8c8c" stroke-width="1"/>
<text transform="translate(524,247.0) scale(0.97,1)" font-size="14.8" fill="#222" text-anchor="end">360</text>
<line x1="672.9" y1="386.6" x2="672.9" y2="382" stroke="#8c8c8c" stroke-width="1"/>
<text transform="translate(672.9,403.6) scale(0.97,1)" font-size="14.8" fill="#222" text-anchor="middle">360</text>
<circle cx="535.6" cy="378.8" r="4.3" fill="#4b98a6"/>
<circle cx="541.3" cy="375.1" r="4.3" fill="#4b98a6"/>
<circle cx="547.0" cy="367.5" r="4.3" fill="#4b98a6"/>
<circle cx="552.8" cy="360.5" r="4.3" fill="#4b98a6"/>
<circle cx="558.5" cy="354.3" r="4.3" fill="#4b98a6"/>
<circle cx="564.2" cy="348.1" r="4.3" fill="#4b98a6"/>
<circle cx="569.9" cy="343.2" r="4.3" fill="#4b98a6"/>
<circle cx="575.6" cy="338.4" r="4.3" fill="#4b98a6"/>
<circle cx="581.4" cy="332.8" r="4.3" fill="#4b98a6"/>
<circle cx="587.1" cy="327.3" r="4.3" fill="#4b98a6"/>
<circle cx="592.8" cy="321.7" r="4.3" fill="#4b98a6"/>
<circle cx="598.5" cy="315.6" r="4.3" fill="#4b98a6"/>
<circle cx="604.2" cy="311.0" r="4.3" fill="#4b98a6"/>
<circle cx="610.0" cy="305.8" r="4.3" fill="#4b98a6"/>
<circle cx="615.7" cy="298.9" r="4.3" fill="#4b98a6"/>
<circle cx="621.4" cy="292.7" r="4.3" fill="#4b98a6"/>
<circle cx="627.1" cy="286.8" r="4.3" fill="#4b98a6"/>
<circle cx="632.8" cy="278.8" r="4.3" fill="#4b98a6"/>
<circle cx="638.6" cy="274.6" r="4.3" fill="#4b98a6"/>
<circle cx="644.3" cy="270.5" r="4.3" fill="#4b98a6"/>
<circle cx="650.0" cy="264.2" r="4.3" fill="#4b98a6"/>
<circle cx="655.7" cy="258.0" r="4.3" fill="#4b98a6"/>
<circle cx="661.4" cy="253.9" r="4.3" fill="#4b98a6"/>
<circle cx="667.1" cy="245.9" r="4.3" fill="#4b98a6"/>
<line x1="535.6" y1="378.8" x2="667.9" y2="246.7" stroke="#111" stroke-width="1.3"/>
<text x="538.3" y="258.2" font-size="14.4" fill="#222">RMS error = 2.9º</text>
<text transform="translate(489,357.6) rotate(-90)" font-size="14.8" fill="#222">Predicted <tspan font-style="italic">θ</tspan> (º)</text>
<text x="566.4" y="422.3" font-size="15" fill="#222">Actual <tspan font-style="italic">θ</tspan> (º)</text>
</g>
<text transform="translate(0,10.5) scale(0.93,1)" font-size="14.5" font-weight="bold" fill="#000">a</text>
<text transform="translate(235.5,10.8) scale(0.93,1)" font-size="14.5" font-weight="bold" fill="#000">b</text>
<text transform="translate(420.5,10.9) scale(0.93,1)" font-size="14.5" font-weight="bold" fill="#000">c</text>
<text transform="translate(0,225.5) scale(0.93,1)" font-size="14.5" font-weight="bold" fill="#000">d</text>
<text transform="translate(476.2,226.7) scale(0.93,1)" font-size="14.5" font-weight="bold" fill="#000">e</text>
</svg></body></html>
